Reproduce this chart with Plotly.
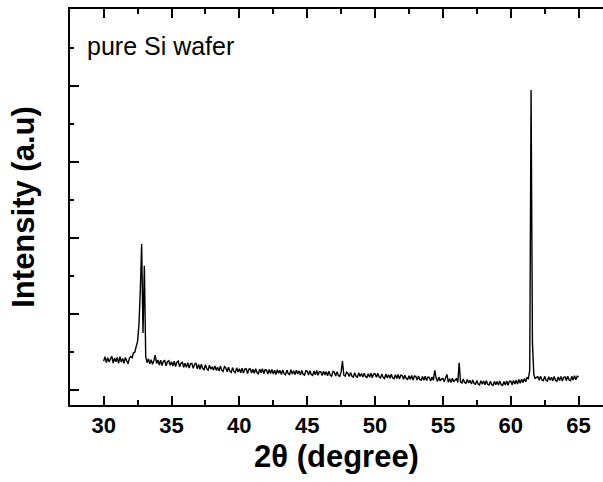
import plotly.graph_objects as go

# XRD scan of a pure Si wafer: measured on a 0.1 degree grid starting at 30.0
scan_start = 30.0
scan_step = 0.1
intensity = [
    380, 440, 360, 425, 370, 410, 445, 355, 420, 372,   # 30
    430, 350, 438, 368, 415, 352, 428, 385, 345, 420,   # 31
    440, 425, 490, 500, 575, 640, 860, 1300, 1921, 750, # 32
    1636, 440, 360, 410, 345, 398, 340, 385, 460, 350,  # 33
    395, 330, 392, 322, 378, 388, 318, 372, 385, 325,   # 34
    372, 315, 378, 310, 365, 380, 305, 352, 370, 300,   # 35
    352, 298, 360, 290, 345, 350, 285, 338, 356, 280,   # 36
    335, 272, 340, 285, 268, 332, 278, 262, 328, 275,   # 37
    305, 262, 318, 258, 300, 250, 315, 262, 245, 308,   # 38
    290, 240, 300, 248, 232, 295, 245, 228, 292, 238,   # 39
    280, 228, 288, 222, 275, 282, 218, 272, 280, 225,   # 40
    272, 220, 280, 230, 212, 275, 228, 280, 215, 268,   # 41
    262, 210, 270, 218, 272, 212, 262, 205, 268, 220,   # 42
    258, 205, 265, 215, 200, 262, 218, 204, 268, 210,   # 43
    255, 202, 262, 210, 252, 198, 258, 208, 195, 252,   # 44
    248, 198, 255, 205, 192, 250, 200, 256, 195, 242,   # 45
    240, 190, 248, 198, 242, 188, 246, 195, 182, 244,   # 46
    235, 185, 242, 192, 180, 238, 380, 195, 182, 236,   # 47
    222, 178, 232, 182, 170, 228, 180, 168, 226, 178,   # 48
    218, 170, 222, 175, 165, 215, 168, 222, 162, 212,   # 49
    215, 168, 220, 170, 160, 212, 166, 152, 210, 162,   # 50
    202, 155, 208, 158, 148, 200, 152, 204, 145, 196,   # 51
    190, 142, 196, 148, 138, 188, 140, 192, 132, 184,   # 52
    180, 132, 186, 138, 128, 178, 130, 182, 125, 172,   # 53
    168, 120, 172, 128, 260, 158, 112, 170, 120, 146,   # 54
    152, 108, 160, 205, 102, 150, 100, 156, 108, 132,   # 55
    148, 100, 359, 108, 92, 146, 98, 88, 140, 95,       # 56
    128, 80, 133, 85, 75, 126, 78, 68, 122, 78,         # 57
    118, 70, 124, 75, 65, 116, 72, 60, 114, 68,         # 58
    112, 65, 118, 70, 60, 112, 66, 120, 62, 114,        # 59
    118, 70, 126, 78, 130, 80, 138, 88, 143, 100,       # 60
    150, 108, 162, 150, 260, 3947, 620, 205, 148, 168,  # 61
    176, 128, 183, 132, 122, 180, 130, 118, 176, 128,   # 62
    168, 120, 178, 128, 115, 172, 125, 178, 120, 168,   # 63
    173, 125, 183, 133, 122, 180, 130, 188, 135, 182,   # 64
    172,                                                # 65
]
two_theta = [round(scan_start + scan_step * i, 2) for i in range(len(intensity))]

x_tick_values = [30, 35, 40, 45, 50, 55, 60, 65]
x_tick_labels = ["30", "35", "40", "45", "50", "55", "60", "65"]
sample_label = "pure Si wafer"

FONT = "Arial, 'Liberation Sans', Helvetica, sans-serif"

fig = go.Figure()
fig.add_trace(go.Scatter(
    x=two_theta, y=intensity, mode="lines",
    line=dict(color="black", width=1.4, simplify=False),
    showlegend=False, hoverinfo="skip",
))

fig.add_annotation(
    text=sample_label, xref="paper", yref="paper",
    x=0.028, y=0.907, xanchor="left", yanchor="middle",
    showarrow=False, font=dict(family=FONT, size=25, color="black"),
)

fig.update_layout(
    width=603, height=482,
    margin=dict(l=70, r=0, t=9, b=77),
    paper_bgcolor="white", plot_bgcolor="white",
    font=dict(family=FONT, color="black"),
    xaxis=dict(
        range=[27.52, 66.8],
        tickmode="array", tickvals=x_tick_values, ticktext=x_tick_labels,
        ticks="inside", ticklen=9, tickwidth=2, tickcolor="black",
        minor=dict(ticks="inside", ticklen=5, tickwidth=2, dtick=2.5,
                   tick0=27.5, tickcolor="black"),
        showline=True, linewidth=2, linecolor="black", mirror="ticks",
        showgrid=False, zeroline=False,
        tickfont=dict(family=FONT, size=22, color="black", weight="bold"),
        title=dict(text="2θ (degree)", standoff=8,
                   font=dict(family=FONT, size=31, color="black", weight="bold")),
    ),
    yaxis=dict(
        range=[-197, 5013],
        tick0=0, dtick=1000,
        ticks="inside", ticklen=9, tickwidth=2, tickcolor="black",
        minor=dict(ticks="inside", ticklen=4, tickwidth=2, dtick=500,
                   tick0=0, tickcolor="black"),
        showticklabels=False,
        showline=True, linewidth=2, linecolor="black", mirror=False,
        showgrid=False, zeroline=False,
        title=dict(text="Intensity (a.u)", standoff=24,
                   font=dict(family=FONT, size=31, color="black", weight="bold")),
    ),
)

fig.write_html("out.html")
